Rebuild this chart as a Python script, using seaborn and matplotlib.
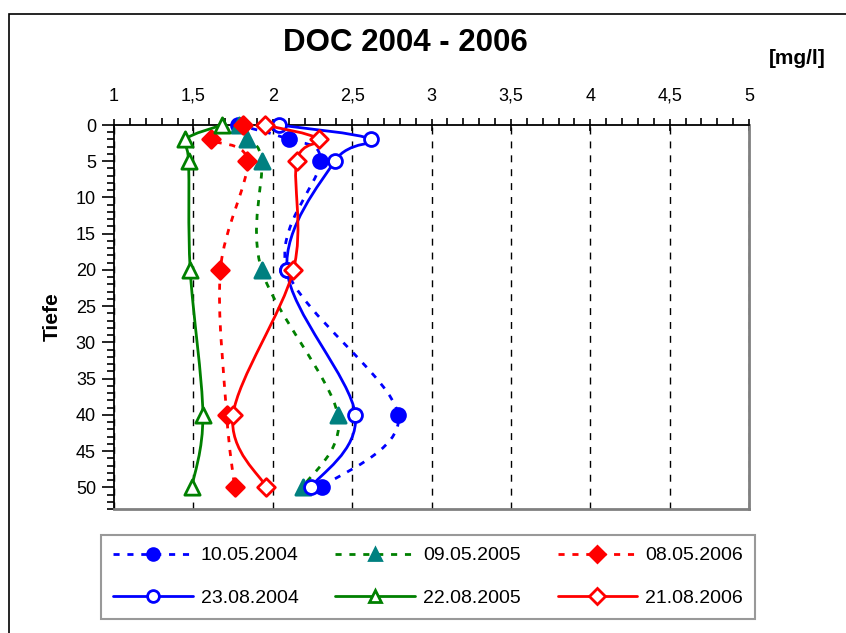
import matplotlib
matplotlib.use("Agg")
import matplotlib.pyplot as plt
import seaborn as sns
import numpy as np
import pandas as pd
from matplotlib.path import Path
from matplotlib.patches import PathPatch, Rectangle
from matplotlib.lines import Line2D
from matplotlib.ticker import MultipleLocator, FuncFormatter

# depth profile values (DOC in mg/l)
depths = [0, 2, 5, 20, 40, 50]
doc_10_05_2004 = [1.78, 2.10, 2.30, 2.09, 2.79, 2.31]
doc_09_05_2005 = [1.79, 1.84, 1.93, 1.93, 2.41, 2.19]
doc_08_05_2006 = [1.81, 1.61, 1.84, 1.67, 1.71, 1.76]
doc_23_08_2004 = [2.04, 2.62, 2.39, 2.09, 2.52, 2.24]
doc_22_08_2005 = [1.68, 1.45, 1.47, 1.48, 1.56, 1.49]
doc_21_08_2006 = [1.95, 2.29, 2.15, 2.13, 1.75, 1.96]

labels = ["10.05.2004", "09.05.2005", "08.05.2006",
          "23.08.2004", "22.08.2005", "21.08.2006"]
values = [doc_10_05_2004, doc_09_05_2005, doc_08_05_2006,
          doc_23_08_2004, doc_22_08_2005, doc_21_08_2006]

DOTTED = (0, (2.2, 2.8))
styles = {
    "10.05.2004": dict(color="#0000ff", ls=DOTTED, marker="o", fc="#0000ff", ec="#0000ff", ms=10),
    "09.05.2005": dict(color="#008000", ls=DOTTED, marker="^", fc="#008080", ec="#008080", ms=11),
    "08.05.2006": dict(color="#ff0000", ls=DOTTED, marker="D", fc="#ff0000", ec="#ff0000", ms=9),
    "23.08.2004": dict(color="#0000ff", ls="-", marker="o", fc="white", ec="#0000ff", ms=10),
    "22.08.2005": dict(color="#008000", ls="-", marker="^", fc="white", ec="#008000", ms=11),
    "21.08.2006": dict(color="#ff0000", ls="-", marker="D", fc="white", ec="#ff0000", ms=9),
}

df = pd.DataFrame({
    "Datum": np.repeat(labels, len(depths)),
    "Tiefe": depths * len(labels),
    "DOC": np.concatenate(values),
})


def smooth_path(xs, ys):
    # Excel-like smoothed line: Catmull-Rom segments as cubic Bezier
    pts = np.column_stack([xs, ys]).astype(float)
    n = len(pts)
    verts = [pts[0]]
    codes = [Path.MOVETO]
    for i in range(n - 1):
        p0 = pts[max(i - 1, 0)]
        p1 = pts[i]
        p2 = pts[i + 1]
        p3 = pts[min(i + 2, n - 1)]
        verts += [p1 + (p2 - p0) / 6, p2 - (p3 - p1) / 6, p2]
        codes += [Path.CURVE4] * 3
    return Path(verts, codes)


sns.set_style("white")
plt.rcParams["font.family"] = ["Liberation Sans", "DejaVu Sans"]
plt.rcParams.update({"text.color": "black", "axes.labelcolor": "black",
                     "xtick.color": "black", "ytick.color": "black"})

fig = plt.figure(figsize=(8.46, 6.33), dpi=100)
ax = fig.add_axes([114 / 846, 1 - 509 / 633, (749 - 114) / 846, (509 - 125) / 633])

z = 3
for lab in labels:
    st = styles[lab]
    sub = df[df["Datum"] == lab]
    patch = PathPatch(smooth_path(sub["DOC"].values, sub["Tiefe"].values),
                      facecolor="none", edgecolor=st["color"], lw=2,
                      linestyle=st["ls"], zorder=z, clip_on=False)
    ax.add_patch(patch)
    sns.scatterplot(data=sub, x="DOC", y="Tiefe", marker=st["marker"],
                    s=st["ms"] ** 2, color=st["fc"], edgecolor=st["ec"],
                    linewidth=2, ax=ax, zorder=z + 1, legend=False, clip_on=False)
    z += 2

ax.set_xlim(1, 5)
ax.set_ylim(53, 0)
ax.xaxis.tick_top()
ax.xaxis.set_major_locator(MultipleLocator(0.5))
ax.xaxis.set_minor_locator(MultipleLocator(0.1))
ax.yaxis.set_major_locator(MultipleLocator(5))
ax.yaxis.set_minor_locator(MultipleLocator(1))
ax.xaxis.set_major_formatter(FuncFormatter(lambda v, p: f"{v:g}".replace(".", ",")))
ax.tick_params(axis="x", which="major", direction="inout", length=9, width=1.2,
               labelsize=13, pad=10, top=True, bottom=False)
ax.tick_params(axis="x", which="minor", direction="out", length=5, width=1.2,
               top=True, bottom=False)
ax.tick_params(axis="y", which="major", direction="out", length=9, width=1.2,
               labelsize=13, pad=4, left=True)
ax.tick_params(axis="y", which="minor", direction="out", length=5, width=1.2, left=True)
ax.set_xlabel("")
ax.set_ylabel("Tiefe", fontsize=15, fontweight="bold", labelpad=10)

ax.xaxis.grid(True, which="major", color="black", lw=1, linestyle=(0, (5, 5)))
ax.yaxis.grid(False)
for side in ["top", "left"]:
    ax.spines[side].set_color("black")
    ax.spines[side].set_linewidth(1.3)
for side in ["right", "bottom"]:
    ax.spines[side].set_color("#808080")
    ax.spines[side].set_linewidth(2)

fig.text(405 / 846, 1 - 43 / 633, "DOC 2004 - 2006", ha="center", va="center",
         fontsize=22.5, fontweight="bold")
fig.text(797 / 846, 1 - 59 / 633, "[mg/l]", ha="center", va="center",
         fontsize=15, fontweight="bold")

fig.patches.append(Rectangle((9 / 846, -0.1), 1.2, 1 - 14 / 633 + 0.1,
                             transform=fig.transFigure, fill=False,
                             edgecolor="black", lw=1.2))

handles = {}
for lab in labels:
    st = styles[lab]
    handles[lab] = Line2D([], [], color=st["color"], linestyle=st["ls"], lw=2,
                          marker=st["marker"], markerfacecolor=st["fc"],
                          markeredgecolor=st["ec"], markeredgewidth=2,
                          markersize=st["ms"] * 0.85)
order = [0, 3, 1, 4, 2, 5]
leg = fig.legend([handles[labels[i]] for i in order], [labels[i] for i in order],
                 ncol=3, loc="center", bbox_to_anchor=(428 / 846, 1 - 577 / 633),
                 fontsize=14, handlelength=4.1, handletextpad=0.4,
                 columnspacing=1.9, labelspacing=1.3, borderpad=0.6,
                 borderaxespad=0, fancybox=False, frameon=True)
leg.get_frame().set_edgecolor("#808080")
leg.get_frame().set_linewidth(1.5)

fig.savefig("out.png", dpi=100)
